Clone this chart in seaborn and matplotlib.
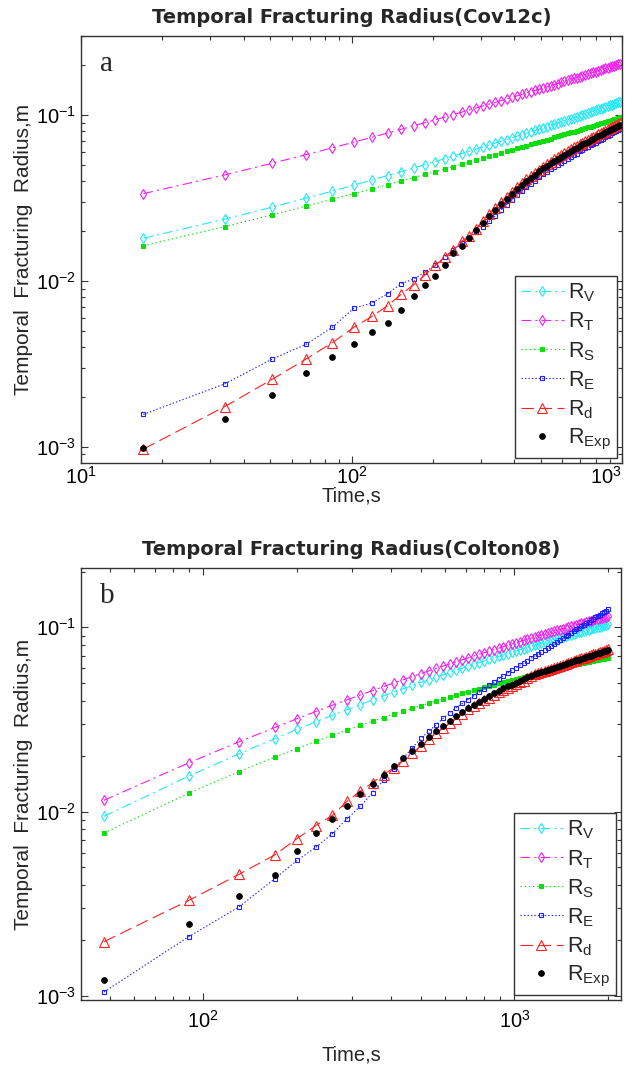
import numpy as np
import pandas as pd
import matplotlib
matplotlib.use("Agg")
import matplotlib.pyplot as plt
import seaborn as sns

# ---- panel a data (Cov12c) ----
t_a = [17, 34, 51, 68, 85, 102, 119, 136, 153, 170, 187, 204, 221, 238, 255, 272, 289, 306, 323, 340,
       357, 374, 391, 408, 425, 442, 459, 476, 493, 510, 527, 544, 561, 578, 595, 612, 629, 646, 663, 680,
       697, 714, 731, 748, 765, 782, 799, 816, 833, 850, 867, 884, 901, 918, 935, 952, 969, 986]

rv_a = [0.0181, 0.0236, 0.0279, 0.0316, 0.0348, 0.0378, 0.0406, 0.0432, 0.0457, 0.0480,
        0.0503, 0.0525, 0.0546, 0.0566, 0.0586, 0.0605, 0.0624, 0.0642, 0.0661, 0.0678,
        0.0695, 0.0712, 0.0729, 0.0745, 0.0761, 0.0777, 0.0792, 0.0808, 0.0823, 0.0838,
        0.0853, 0.0867, 0.0883, 0.0896, 0.0910, 0.0924, 0.0938, 0.0952, 0.0966, 0.0979,
        0.0993, 0.1006, 0.1018, 0.1031, 0.1044, 0.1058, 0.1070, 0.1082, 0.1095, 0.1108,
        0.1121, 0.1132, 0.1144, 0.1156, 0.1168, 0.1180, 0.1192, 0.1203]
rt_a = [0.0336, 0.0436, 0.0513, 0.0578, 0.0635, 0.0687, 0.0735, 0.0780, 0.0822, 0.0863,
        0.0900, 0.0938, 0.0973, 0.1007, 0.1040, 0.1073, 0.1104, 0.1134, 0.1165, 0.1194,
        0.1222, 0.1250, 0.1278, 0.1304, 0.1331, 0.1357, 0.1382, 0.1407, 0.1432, 0.1456,
        0.1480, 0.1504, 0.1528, 0.1550, 0.1573, 0.1596, 0.1619, 0.1641, 0.1663, 0.1684,
        0.1706, 0.1727, 0.1747, 0.1768, 0.1789, 0.1810, 0.1830, 0.1849, 0.1869, 0.1889,
        0.1910, 0.1928, 0.1946, 0.1965, 0.1985, 0.2004, 0.2023, 0.2040]
rs_a = [0.0163, 0.0213, 0.0251, 0.0283, 0.0311, 0.0336, 0.0359, 0.0381, 0.0401, 0.0420,
        0.0439, 0.0456, 0.0473, 0.0489, 0.0505, 0.0521, 0.0535, 0.0550, 0.0564, 0.0578,
        0.0591, 0.0604, 0.0617, 0.0630, 0.0642, 0.0654, 0.0666, 0.0678, 0.0689, 0.0701,
        0.0712, 0.0722, 0.0734, 0.0744, 0.0755, 0.0765, 0.0775, 0.0786, 0.0796, 0.0806,
        0.0816, 0.0825, 0.0834, 0.0844, 0.0853, 0.0863, 0.0872, 0.0881, 0.0890, 0.0899,
        0.0909, 0.0917, 0.0926, 0.0934, 0.0943, 0.0952, 0.0960, 0.0968]
re_a = [0.00157, 0.0024, 0.00339, 0.00416, 0.00526, 0.00685, 0.00736, 0.0084, 0.00964, 0.0103,
        0.0113, 0.0125, 0.0139, 0.0154, 0.0170, 0.0182, 0.0196, 0.0213, 0.0229, 0.0247,
        0.0268, 0.0288, 0.0309, 0.0328, 0.0348, 0.0367, 0.0385, 0.0403, 0.0421, 0.0439,
        0.0454, 0.0471, 0.0489, 0.0501, 0.0516, 0.0529, 0.0544, 0.0558, 0.0572, 0.0586,
        0.0606, 0.0619, 0.0631, 0.0644, 0.0657, 0.0670, 0.0682, 0.0694, 0.0707, 0.0719,
        0.0740, 0.0752, 0.0763, 0.0775, 0.0788, 0.0800, 0.0812, 0.0823]
rd_a = [0.00097, 0.00175, 0.00256, 0.00339, 0.00425, 0.00526, 0.00612, 0.0071, 0.00835, 0.0095,
        0.0109, 0.0124, 0.0139, 0.0154, 0.0173, 0.0187, 0.0207, 0.0229, 0.0252, 0.0276,
        0.0298, 0.0321, 0.0344, 0.0366, 0.0387, 0.0409, 0.0429, 0.0449, 0.0469, 0.0489,
        0.0506, 0.0525, 0.0544, 0.0559, 0.0575, 0.0589, 0.0606, 0.0622, 0.0638, 0.0653,
        0.0668, 0.0683, 0.0696, 0.0710, 0.0724, 0.0738, 0.0751, 0.0765, 0.0779, 0.0792,
        0.0807, 0.0820, 0.0832, 0.0845, 0.0859, 0.0872, 0.0886, 0.0898]
rexp_a = [0.00098, 0.00147, 0.00205, 0.00277, 0.00348, 0.00419, 0.00491, 0.00559, 0.00672, 0.00815,
          0.0095, 0.0107, 0.0125, 0.0147, 0.0163, 0.0182, 0.0202, 0.0224, 0.0246, 0.0269,
          0.0291, 0.0313, 0.0336, 0.0357, 0.0378, 0.0399, 0.0419, 0.0438, 0.0458, 0.0477,
          0.0494, 0.0512, 0.0531, 0.0545, 0.0561, 0.0575, 0.0591, 0.0607, 0.0622, 0.0637,
          0.0652, 0.0666, 0.0679, 0.0693, 0.0706, 0.0720, 0.0733, 0.0746, 0.0760, 0.0773,
          0.0787, 0.0800, 0.0812, 0.0824, 0.0838, 0.0851, 0.0864, 0.0876]

# ---- panel b data (Colton08) ----
t_b = [48, 90, 130, 170, 200, 230, 260, 290, 320, 350,
       380, 410, 440, 470, 500, 530, 560, 590, 620, 650,
       680, 710, 740, 770, 800, 830, 860, 890, 920, 950,
       980, 1010, 1040, 1070, 1100, 1130, 1160, 1190, 1220, 1250,
       1280, 1310, 1340, 1370, 1400, 1430, 1460, 1490, 1520, 1550,
       1580, 1610, 1640, 1670, 1700, 1730, 1760, 1790, 1820, 1850,
       1880, 1910, 1940, 1970, 2000]

rv_b = [0.00943, 0.01560, 0.02056, 0.02490, 0.02791, 0.03070, 0.03331, 0.03575, 0.03811, 0.04034,
        0.04249, 0.04454, 0.04646, 0.04837, 0.05020, 0.05193, 0.05364, 0.05534, 0.05690, 0.05849,
        0.06003, 0.06144, 0.06287, 0.06427, 0.06564, 0.06697, 0.06825, 0.06952, 0.07083, 0.07206,
        0.07320, 0.07436, 0.07551, 0.07662, 0.07772, 0.07884, 0.07986, 0.08097, 0.08193, 0.08297,
        0.08393, 0.08490, 0.08588, 0.08686, 0.08774, 0.08863, 0.08954, 0.09045, 0.09135, 0.09215,
        0.09307, 0.09391, 0.09474, 0.09555, 0.09627, 0.09712, 0.09797, 0.09869, 0.09943, 0.1002,
        0.1010, 0.1017, 0.1024, 0.1031, 0.1038]
rt_b = [0.01152, 0.01842, 0.02389, 0.02863, 0.03190, 0.03494, 0.03777, 0.04043, 0.04298, 0.04541,
        0.04774, 0.04994, 0.05203, 0.05409, 0.05608, 0.05798, 0.05982, 0.06164, 0.06333, 0.06506,
        0.06673, 0.06827, 0.06984, 0.07134, 0.07286, 0.07432, 0.07570, 0.07709, 0.07852, 0.07986,
        0.08112, 0.08238, 0.08368, 0.08488, 0.08610, 0.08730, 0.08843, 0.08968, 0.09074, 0.09190,
        0.09296, 0.09402, 0.09513, 0.09620, 0.09718, 0.09820, 0.09920, 0.1002, 0.1012, 0.1021,
        0.1031, 0.1040, 0.1050, 0.1059, 0.1067, 0.1077, 0.1086, 0.1095, 0.1103, 0.1111,
        0.1119, 0.1128, 0.1136, 0.1144, 0.1152]
rs_b = [0.00766, 0.01260, 0.01646, 0.01976, 0.02199, 0.02405, 0.02594, 0.02769, 0.02935, 0.03090,
        0.03239, 0.03378, 0.03508, 0.03636, 0.03758, 0.03871, 0.03982, 0.04091, 0.04191, 0.04291,
        0.04388, 0.04477, 0.04565, 0.04650, 0.04735, 0.04815, 0.04891, 0.04968, 0.05044, 0.05117,
        0.05184, 0.05253, 0.05321, 0.05383, 0.05447, 0.05510, 0.05569, 0.05632, 0.05684, 0.05743,
        0.05796, 0.05850, 0.05904, 0.05957, 0.06006, 0.06053, 0.06102, 0.06150, 0.06198, 0.06243,
        0.06290, 0.06332, 0.06376, 0.06419, 0.06457, 0.06501, 0.06543, 0.06580, 0.06619, 0.06656,
        0.06693, 0.06731, 0.06768, 0.06801, 0.06837]
re_b = [0.00105, 0.0021, 0.00303, 0.00433, 0.00543, 0.0064, 0.00759, 0.00916, 0.0107, 0.01268,
        0.01484, 0.01714, 0.01955, 0.02220, 0.02497, 0.02725, 0.02961, 0.03206, 0.03448, 0.03667,
        0.03867, 0.04056, 0.04254, 0.04449, 0.04656, 0.04857, 0.05053, 0.05258, 0.05458, 0.05649,
        0.05833, 0.06022, 0.06218, 0.06404, 0.06597, 0.06794, 0.06982, 0.07191, 0.07370, 0.07573,
        0.07762, 0.07955, 0.08153, 0.08356, 0.08543, 0.08736, 0.08931, 0.09130, 0.09334, 0.09521,
        0.09736, 0.09931, 0.1013, 0.1033, 0.1051, 0.1072, 0.1093, 0.1112, 0.1131, 0.1151,
        0.1171, 0.1192, 0.1212, 0.1230, 0.1252]
rd_b = [0.00197, 0.0033, 0.00456, 0.00583, 0.00713, 0.0084, 0.00955, 0.01138, 0.01292, 0.01437,
        0.01587, 0.01733, 0.01892, 0.02080, 0.02272, 0.02465, 0.02666, 0.02844, 0.03014, 0.03193,
        0.03375, 0.03583, 0.03726, 0.03867, 0.04013, 0.04156, 0.04295, 0.04438, 0.04565, 0.04683,
        0.04797, 0.04914, 0.05032, 0.05145, 0.05313, 0.05478, 0.05556, 0.05643, 0.05716, 0.05797,
        0.05873, 0.05949, 0.06026, 0.06104, 0.06176, 0.06280, 0.06352, 0.06427, 0.06501, 0.06570,
        0.06645, 0.06714, 0.06785, 0.06855, 0.06917, 0.06990, 0.07062, 0.07126, 0.07191, 0.07255,
        0.07320, 0.07389, 0.07455, 0.07512, 0.07582]
rexp_b = [0.00122, 0.00245, 0.00348, 0.00453, 0.00608, 0.00762, 0.00916, 0.01079, 0.01242, 0.01409,
          0.01587, 0.01768, 0.01950, 0.02144, 0.02342, 0.02541, 0.02748, 0.02932, 0.03107, 0.03292,
          0.03479, 0.03656, 0.03802, 0.03946, 0.04095, 0.04241, 0.04383, 0.04529, 0.04658, 0.04779,
          0.04895, 0.05014, 0.05135, 0.05250, 0.05367, 0.05478, 0.05556, 0.05643, 0.05716, 0.05797,
          0.05873, 0.05949, 0.06026, 0.06104, 0.06176, 0.06248, 0.06320, 0.06395, 0.06469, 0.06537,
          0.06612, 0.06681, 0.06751, 0.06821, 0.06883, 0.06955, 0.07027, 0.07091, 0.07155, 0.07219,
          0.07284, 0.07352, 0.07418, 0.07475, 0.07544]

labels = [r"$\mathrm{R_V}$", r"$\mathrm{R_T}$", r"$\mathrm{R_S}$",
          r"$\mathrm{R_E}$", r"$\mathrm{R_d}$", r"$\mathrm{R_{Exp}}$"]

sns.set_style("ticks")
plt.rcParams["font.family"] = ["Liberation Sans", "DejaVu Sans"]
plt.rcParams["mathtext.fontset"] = "custom"
plt.rcParams["mathtext.rm"] = "Liberation Sans"
plt.rcParams["mathtext.it"] = "Liberation Sans:italic"
plt.rcParams["lines.scale_dashes"] = False

# line styles: color, linestyle, marker, markersize, facecolor
dashdot = (0, (7, 3, 1.5, 3))
styles = [
    ("#22e8f5", dashdot, "d", 5, "none"),
    ("#f020f0", dashdot, "d", 5, "none"),
    ("#10dd10", (0, (1, 2)), "s", 3.3, "#10dd10"),
    ("#2020ff", (0, (1, 1.5)), "s", 3.5, "none"),
    ("#ff2020", (0, (9, 4)), "^", 6.5, "none"),
    ("black", "none", "o", 4, "black"),
]


def draw(ax, t, series, xlim, ylim, xticks, xticklabels, title, tag, xpad, tpad):
    for y, lab, (col, ls, mk, ms, mfc) in zip(series, labels, styles):
        sns.lineplot(x=t, y=y, ax=ax, color=col, linestyle=ls, linewidth=0.8,
                     marker=mk, markersize=ms, markerfacecolor=mfc,
                     markeredgecolor=col, markeredgewidth=0.8,
                     label=lab, estimator=None, sort=False)
    ax.set_xscale("log")
    ax.set_yscale("log")
    ax.set_xticks(xticks)
    ax.set_xticklabels(xticklabels)
    ax.set_xlim(*xlim)
    ax.set_ylim(*ylim)
    ax.tick_params(which="both", direction="in", top=True, right=True,
                   labelsize=14.5, width=0.8, colors="#333333", labelcolor="black")
    ax.tick_params(which="major", length=5)
    ax.tick_params(which="minor", length=3)
    ax.tick_params(axis="x", which="major", pad=tpad)
    for sp in ax.spines.values():
        sp.set_linewidth(1.0)
        sp.set_color("#333333")
    ax.set_title(title, fontsize=14, fontweight="bold", pad=9,
                 family=["DejaVu Sans"])
    ax.set_xlabel("Time,s", fontsize=14.5, labelpad=xpad)
    ax.set_ylabel("Temporal  Fracturing  Radius,m", fontsize=15, labelpad=2)
    ax.text(0.035, 0.935, tag, transform=ax.transAxes, fontsize=21,
            family="Liberation Serif", va="center", ha="left")
    leg = ax.legend(loc="lower right", fontsize=15.5, frameon=True, fancybox=False,
                    edgecolor="#333333", framealpha=1, handlelength=2.0,
                    handletextpad=0.2, labelspacing=0.3, borderpad=0.25,
                    borderaxespad=0.25, numpoints=1)
    leg.get_frame().set_linewidth(1.0)


fig = plt.figure(figsize=(6.35, 10.66), dpi=100)
ax1 = fig.add_axes([0.1276, 0.5657, 0.852, 0.4006])
ax2 = fig.add_axes([0.1276, 0.0619, 0.8504, 0.4053])

draw(ax1, t_a, [rv_a, rt_a, rs_a, re_a, rd_a, rexp_a], (10, 1000), (8e-4, 0.3),
     [10, 100, 1000], [r"$\mathdefault{10^{1}}$", r"$\mathdefault{10^{2}}$", r"$\mathdefault{10^{3}}$"],
     "Temporal Fracturing Radius(Cov12c)", "a", -1, 2)
draw(ax2, t_b, [rv_b, rt_b, rs_b, re_b, rd_b, rexp_b], (40.5, 2200), (9.5e-4, 0.21),
     [100, 1000], [r"$\mathdefault{10^{2}}$", r"$\mathdefault{10^{3}}$"],
     "Temporal Fracturing Radius(Colton08)", "b", 10, 7)

# keep the right end label of panel a inside the figure like the original
ax1.get_xticklabels()[-1].set_horizontalalignment("right")

fig.savefig("out.png", dpi=100)
